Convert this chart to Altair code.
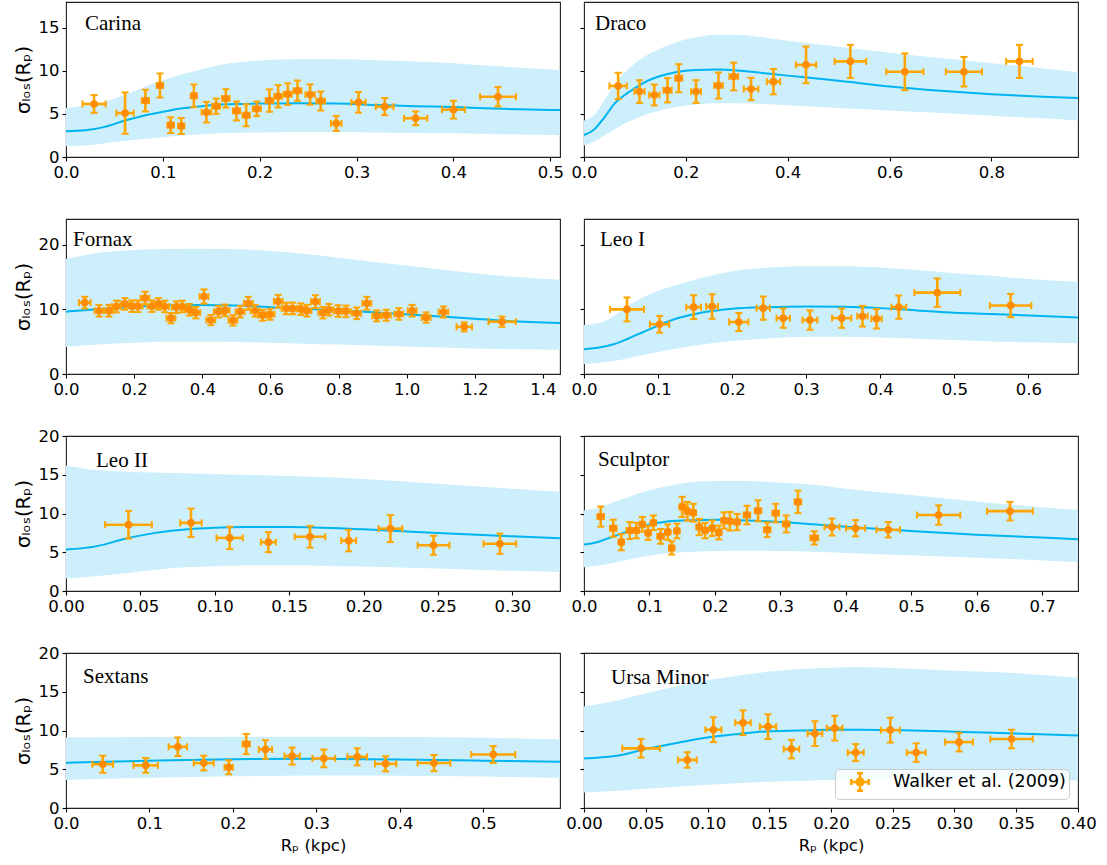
import altair as alt
import pandas as pd

# ---------------- data ----------------
legend_label = "Walker et al. (2009)"
y_title = "σₗₒₛ(Rₚ)"
x_title = "Rₚ (kpc)"

# Carina
carina_x = [0.029, 0.061, 0.082, 0.097, 0.108, 0.119, 0.132, 0.145, 0.155, 0.165, 0.176, 0.186, 0.197,
            0.210, 0.219, 0.229, 0.239, 0.252, 0.263, 0.279, 0.302, 0.329, 0.361, 0.400, 0.446]
carina_y = [6.16, 5.1, 6.55, 8.3, 3.7, 3.6, 7.1, 5.2, 5.9, 6.8, 5.35, 4.85, 5.6,
            6.55, 7.05, 7.3, 7.7, 7.25, 6.5, 3.9, 6.35, 5.85, 4.5, 5.5, 7.0]
carina_xerr = [0.012, 0.009, 0.0037, 0.0033, 0.0033, 0.0031, 0.0031, 0.005, 0.004, 0.0039, 0.0037, 0.0037, 0.0042,
               0.0039, 0.0039, 0.004, 0.004, 0.0048, 0.0044, 0.0055, 0.0074, 0.0092, 0.012, 0.0118, 0.0185]
carina_yerr = [1.03, 2.4, 1.26, 1.4, 0.91, 0.93, 1.32, 1.2, 0.89, 1.07, 1.1, 1.28, 0.85,
               1.3, 1.3, 1.26, 1.18, 1.18, 1.1, 0.87, 1.2, 1.0, 0.8, 1.03, 1.12]
carina_cx = [0, 0.02, 0.04, 0.06, 0.08, 0.1, 0.12, 0.14, 0.16, 0.2, 0.24, 0.28, 0.32, 0.36, 0.4, 0.45, 0.51]
carina_med = [3.0, 3.1, 3.5, 4.2, 4.8, 5.25, 5.65, 5.9, 6.1, 6.2, 6.25, 6.2, 6.05, 5.9, 5.8, 5.6, 5.45]
carina_hi = [5.7, 6.0, 6.45, 7.2, 8.1, 8.9, 9.6, 10.2, 10.7, 11.2, 11.35, 11.35, 11.25, 11.1, 10.9, 10.5, 10.1]
carina_lo = [1.25, 1.35, 1.6, 1.85, 2.1, 2.3, 2.5, 2.65, 2.75, 2.85, 2.9, 2.9, 2.85, 2.8, 2.75, 2.65, 2.55]

# Draco
draco_x = [0.067, 0.109, 0.138, 0.164, 0.186, 0.220, 0.264, 0.294, 0.328, 0.372, 0.436, 0.523, 0.630, 0.746, 0.855]
draco_y = [8.25, 7.6, 7.2, 7.75, 9.15, 7.6, 8.3, 9.35, 7.9, 8.75, 10.7, 11.1, 9.9, 9.9, 11.1]
draco_xerr = [0.017, 0.01, 0.01, 0.008, 0.0068, 0.0096, 0.0085, 0.0085, 0.0143, 0.013, 0.02, 0.031, 0.0365, 0.0355, 0.026]
draco_yerr = [1.53, 1.32, 1.22, 1.41, 1.63, 1.32, 1.51, 1.61, 1.3, 1.47, 2.13, 1.92, 2.13, 1.72, 1.92]
draco_cx = [0, 0.02, 0.04, 0.06, 0.08, 0.1, 0.12, 0.15, 0.18, 0.22, 0.26, 0.3, 0.35, 0.4, 0.5, 0.6, 0.7, 0.8, 0.9, 0.97]
draco_med = [2.55, 3.2, 4.6, 6.2, 7.2, 8.0, 8.7, 9.4, 9.85, 10.1, 10.15, 10.05, 9.75, 9.45, 8.85, 8.2, 7.7, 7.3, 7.0, 6.85]
draco_hi = [4.25, 4.9, 6.6, 8.4, 9.8, 10.9, 11.7, 12.6, 13.3, 13.9, 14.2, 14.2, 13.9, 13.5, 12.8, 12.1, 11.5, 10.9, 10.3, 9.85]
draco_lo = [1.35, 1.8, 2.5, 3.2, 3.9, 4.4, 4.9, 5.4, 5.8, 6.1, 6.25, 6.25, 6.15, 6.0, 5.7, 5.4, 5.1, 4.8, 4.5, 4.25]

# Fornax
fornax_x = [0.055, 0.097, 0.126, 0.148, 0.173, 0.194, 0.211, 0.232, 0.252, 0.271, 0.290, 0.308, 0.324, 0.341,
            0.362, 0.381, 0.405, 0.425, 0.447, 0.467, 0.490, 0.511, 0.535, 0.555, 0.577, 0.599, 0.623, 0.646,
            0.665, 0.689, 0.707, 0.732, 0.754, 0.772, 0.799, 0.822, 0.853, 0.883, 0.912, 0.940, 0.977, 1.016,
            1.057, 1.108, 1.169, 1.280]
fornax_y = [11.05, 9.8, 9.8, 10.45, 10.85, 10.5, 10.5, 11.75, 10.5, 10.85, 10.45, 8.65, 10.35, 10.45,
            9.95, 9.5, 12.0, 8.35, 9.65, 9.85, 8.3, 9.65, 10.95, 9.8, 9.1, 9.25, 11.25, 10.15,
            10.15, 10.05, 9.8, 11.2, 9.5, 9.95, 9.75, 9.7, 9.4, 10.95, 9.0, 9.1, 9.3, 9.8,
            8.75, 9.6, 7.3, 8.1]
fornax_xerr = [0.017, 0.013, 0.013, 0.013, 0.013, 0.013, 0.013, 0.013, 0.013, 0.013, 0.013, 0.013, 0.013, 0.013,
               0.013, 0.013, 0.013, 0.013, 0.013, 0.013, 0.013, 0.013, 0.013, 0.013, 0.013, 0.013, 0.013, 0.013,
               0.013, 0.013, 0.013, 0.013, 0.013, 0.013, 0.013, 0.013, 0.013, 0.013, 0.013, 0.013, 0.013, 0.013,
               0.013, 0.014, 0.0226, 0.04]
fornax_yerr = [0.9, 0.9, 0.9, 0.9, 0.9, 0.9, 0.9, 1.0, 0.9, 0.9, 0.9, 0.8, 0.9, 0.9,
               0.9, 0.9, 1.1, 0.8, 0.9, 0.9, 0.8, 0.9, 1.0, 0.9, 0.85, 0.85, 1.0, 0.9,
               0.9, 0.9, 0.9, 1.0, 0.9, 0.9, 0.9, 0.9, 0.9, 1.0, 0.85, 0.85, 0.9, 0.9,
               0.8, 0.85, 0.7, 0.8]
fornax_cx = [0, 0.1, 0.2, 0.3, 0.4, 0.5, 0.6, 0.7, 0.8, 0.9, 1.0, 1.1, 1.2, 1.3, 1.45]
fornax_med = [9.65, 10.05, 10.4, 10.65, 10.7, 10.6, 10.35, 10.1, 9.85, 9.55, 9.25, 8.9, 8.55, 8.2, 7.9]
fornax_hi = [17.8, 18.8, 19.2, 19.35, 19.4, 19.3, 19.05, 18.6, 18.0, 17.4, 16.8, 16.2, 15.6, 15.1, 14.6]
fornax_lo = [4.2, 4.6, 4.85, 5.0, 5.0, 4.95, 4.85, 4.7, 4.55, 4.4, 4.25, 4.1, 3.95, 3.85, 3.75]

# Leo I
leo1_x = [0.058, 0.102, 0.148, 0.173, 0.209, 0.242, 0.269, 0.305, 0.348, 0.376, 0.395, 0.425, 0.477, 0.576]
leo1_y = [10.0, 7.7, 10.35, 10.45, 8.05, 10.2, 8.65, 8.35, 8.65, 8.95, 8.55, 10.35, 12.6, 10.6]
leo1_xerr = [0.023, 0.013, 0.01, 0.008, 0.013, 0.009, 0.009, 0.01, 0.013, 0.007, 0.007, 0.01, 0.031, 0.028]
leo1_yerr = [1.85, 1.3, 1.85, 1.9, 1.4, 1.8, 1.5, 1.5, 1.5, 1.6, 1.5, 1.8, 2.2, 1.8]
leo1_cx = [0, 0.02, 0.04, 0.06, 0.08, 0.1, 0.125, 0.15, 0.2, 0.25, 0.3, 0.35, 0.4, 0.45, 0.5, 0.55, 0.6, 0.667]
leo1_med = [3.85, 4.1, 4.6, 5.5, 6.5, 7.5, 8.6, 9.3, 10.1, 10.35, 10.45, 10.4, 10.2, 9.85, 9.5, 9.3, 9.05, 8.75]
leo1_hi = [7.6, 7.9, 9.0, 10.6, 11.9, 12.9, 13.8, 14.6, 15.9, 16.5, 16.7, 16.7, 16.5, 16.1, 15.6, 15.2, 14.7, 14.3]
leo1_lo = [1.55, 1.7, 2.0, 2.45, 2.95, 3.4, 3.95, 4.4, 5.1, 5.5, 5.75, 5.75, 5.65, 5.45, 5.25, 5.05, 4.9, 4.75]

# Leo II
leo2_x = [0.042, 0.084, 0.110, 0.136, 0.164, 0.190, 0.218, 0.247, 0.2916]
leo2_y = [8.55, 8.8, 6.85, 6.3, 7.0, 6.5, 8.05, 5.9, 6.1]
leo2_xerr = [0.0157, 0.0072, 0.0088, 0.005, 0.0103, 0.005, 0.008, 0.0107, 0.011]
leo2_yerr = [1.78, 1.83, 1.44, 1.29, 1.4, 1.38, 1.74, 1.23, 1.31]
leo2_cx = [0, 0.02, 0.04, 0.06, 0.08, 0.1, 0.12, 0.15, 0.2, 0.25, 0.3, 0.332]
leo2_med = [5.35, 5.76, 6.75, 7.5, 7.95, 8.17, 8.25, 8.26, 7.96, 7.48, 7.05, 6.8]
leo2_hi = [16.2, 15.6, 15.4, 15.3, 15.2, 15.1, 15.0, 14.85, 14.45, 13.85, 13.2, 12.8]
leo2_lo = [1.6, 1.9, 2.3, 2.75, 3.05, 3.2, 3.3, 3.3, 3.15, 2.9, 2.6, 2.45]

# Sculptor
sculptor_x = [0.0255, 0.0447, 0.057, 0.070, 0.080, 0.089, 0.098, 0.106, 0.117, 0.128, 0.134, 0.142, 0.150,
              0.158, 0.167, 0.176, 0.185, 0.196, 0.206, 0.214, 0.223, 0.234, 0.249, 0.266, 0.280, 0.293,
              0.309, 0.327, 0.352, 0.379, 0.415, 0.465, 0.542, 0.651]
sculptor_y = [9.6, 8.1, 6.3, 7.8, 7.8, 8.6, 7.5, 8.8, 7.05, 7.6, 5.55, 7.75, 10.85,
              10.3, 10.1, 8.25, 7.8, 8.1, 7.55, 9.1, 9.0, 8.9, 9.8, 10.35, 7.9, 10.05,
              8.65, 11.5, 6.85, 8.25, 8.1, 7.9, 9.8, 10.3]
sculptor_xerr = [0.005, 0.005, 0.004, 0.005, 0.004, 0.004, 0.004, 0.004, 0.005, 0.004, 0.004, 0.004, 0.004,
                 0.004, 0.004, 0.004, 0.004, 0.004, 0.004, 0.004, 0.004, 0.004, 0.005, 0.005, 0.005, 0.005,
                 0.005, 0.005, 0.006, 0.0115, 0.0146, 0.018, 0.033, 0.035]
sculptor_yerr = [1.3, 1.1, 1.05, 1.1, 1.0, 0.95, 0.9, 0.95, 0.95, 1.0, 0.85, 0.95, 1.3,
                 1.2, 1.15, 1.05, 1.0, 1.0, 0.9, 1.05, 1.2, 1.05, 1.2, 1.35, 0.95, 1.2,
                 1.1, 1.45, 0.85, 1.1, 1.05, 1.0, 1.25, 1.2]
sculptor_cx = [0, 0.02, 0.04, 0.06, 0.08, 0.1, 0.125, 0.15, 0.2, 0.25, 0.3, 0.35, 0.4, 0.5, 0.6, 0.7, 0.755]
sculptor_med = [6.0, 6.3, 6.9, 7.5, 8.05, 8.6, 8.95, 9.1, 9.2, 9.1, 8.9, 8.6, 8.3, 7.75, 7.25, 6.9, 6.67]
sculptor_hi = [10.4, 10.7, 11.3, 11.9, 12.5, 13.0, 13.5, 13.9, 14.2, 14.2, 14.0, 13.7, 13.2, 12.4, 11.55, 10.8, 10.45]
sculptor_lo = [3.05, 3.25, 3.55, 3.9, 4.25, 4.55, 4.85, 5.0, 5.15, 5.2, 5.15, 5.05, 4.9, 4.6, 4.3, 3.95, 3.75]

# Sextans
sextans_x = [0.044, 0.0955, 0.134, 0.165, 0.195, 0.216, 0.239, 0.271, 0.309, 0.349, 0.383, 0.441, 0.512]
sextans_y = [5.65, 5.5, 7.9, 5.8, 5.25, 8.25, 7.55, 6.7, 6.4, 6.6, 5.7, 5.8, 6.9]
sextans_xerr = [0.0124, 0.0146, 0.011, 0.012, 0.005, 0.0043, 0.008, 0.0092, 0.0137, 0.0118, 0.0128, 0.0197, 0.0264]
sextans_yerr = [1.1, 0.95, 1.2, 0.95, 0.9, 1.3, 1.2, 1.1, 1.15, 1.1, 0.97, 1.04, 1.08]
sextans_cx = [0, 0.1, 0.2, 0.3, 0.4, 0.5, 0.592]
sextans_med = [5.85, 6.1, 6.3, 6.35, 6.25, 6.1, 5.97]
sextans_hi = [9.1, 9.15, 9.2, 9.2, 9.15, 9.05, 8.87]
sextans_lo = [3.6, 3.9, 4.1, 4.2, 4.15, 4.05, 3.9]

# Ursa Minor
umi_x = [0.0462, 0.0837, 0.1048, 0.1287, 0.149, 0.168, 0.187, 0.203, 0.220, 0.248, 0.269, 0.3037, 0.3462]
umi_y = [7.7, 6.2, 10.1, 11.0, 10.5, 7.6, 9.6, 10.3, 7.15, 10.05, 7.15, 8.5, 8.9]
umi_xerr = [0.0152, 0.0076, 0.0065, 0.0063, 0.0066, 0.0063, 0.006, 0.0063, 0.0065, 0.0077, 0.0077, 0.0113, 0.0172]
umi_yerr = [1.2, 1.0, 1.6, 1.6, 1.6, 1.2, 1.6, 1.6, 1.1, 1.6, 1.2, 1.2, 1.2]
umi_cx = [0, 0.025, 0.05, 0.075, 0.1, 0.125, 0.15, 0.175, 0.2, 0.225, 0.25, 0.3, 0.35, 0.4]
umi_med = [6.4, 6.7, 7.6, 8.4, 9.1, 9.55, 9.9, 10.0, 10.1, 10.1, 10.05, 9.85, 9.6, 9.35]
umi_hi = [13.1, 13.8, 14.8, 15.7, 16.5, 17.1, 17.6, 17.95, 18.1, 18.15, 18.05, 17.7, 17.4, 16.8]
umi_lo = [2.0, 2.2, 2.5, 2.75, 3.0, 3.2, 3.4, 3.5, 3.6, 3.65, 3.7, 3.7, 3.65, 3.55]

# ---------------- styling ----------------
BAND = "#cdeffb"
LINE = "#00b4f0"
ERR = "#ffa500"
PT = "#ff8c00"
SANS = "DejaVu Sans"
SERIF = "Liberation Serif"
FS = 16.5
W, H = 494, 155

legend_path = ("M-1,0H1M0,-1V1M-0.35,-1H0.35M-0.35,1H0.35M-1,-0.35V0.35M1,-0.35V0.35"
               "M-0.4,0A0.4,0.4 0 1,1 0.4,0A0.4,0.4 0 1,1 -0.4,0Z")


def panel(name, px, py, pxe, pye, cx, med, lo, hi, xmax, xticks, xfmt, ymax, yticks,
          left, bottom, name_dx, name_dy, legend=False):
    band_df = pd.DataFrame({"x": cx, "lo": lo, "hi": hi, "med": med})
    pts_df = pd.DataFrame({
        "x": px, "y": py,
        "xlo": [a - b for a, b in zip(px, pxe)], "xhi": [a + b for a, b in zip(px, pxe)],
        "ylo": [a - b for a, b in zip(py, pye)], "yhi": [a + b for a, b in zip(py, pye)],
        "series": [legend_label] * len(px),
    })
    capy_df = pd.DataFrame({"x": list(px) * 2,
                            "y": [a - b for a, b in zip(py, pye)] + [a + b for a, b in zip(py, pye)]})
    capx_df = pd.DataFrame({"x": [a - b for a, b in zip(px, pxe)] + [a + b for a, b in zip(px, pxe)],
                            "y": list(py) * 2})
    name_df = pd.DataFrame({"name": [name]})

    xscale = alt.Scale(domain=[0, xmax], nice=False, zero=False)
    yscale = alt.Scale(domain=[0, ymax], nice=False, zero=False)
    xaxis = alt.Axis(values=xticks, format=xfmt, title=x_title if bottom else None)
    if left:
        yaxis = alt.Axis(values=yticks, format="d", title=y_title, titleFontSize=19.5, titlePadding=5)
    else:
        yaxis = alt.Axis(values=yticks, format="d", labels=False, title=None)

    def X(f):
        return alt.X(f"{f}:Q", scale=xscale, axis=xaxis)

    def Y(f):
        return alt.Y(f"{f}:Q", scale=yscale, axis=yaxis)

    band = alt.Chart(band_df).mark_area(color=BAND, opacity=1, interpolate="monotone").encode(
        x=X("x"), y=Y("lo"), y2="hi")
    line = alt.Chart(band_df).mark_line(color=LINE, strokeWidth=2, interpolate="monotone").encode(
        x=X("x"), y=Y("med"))
    ebar_y = alt.Chart(pts_df).mark_rule(color=ERR, strokeWidth=2.6).encode(
        x=X("x"), y=Y("ylo"), y2="yhi")
    ebar_x = alt.Chart(pts_df).mark_rule(color=ERR, strokeWidth=2.6).encode(
        x=X("xlo"), x2="xhi", y=Y("y"))
    cap_y = alt.Chart(capy_df).mark_tick(orient="horizontal", color=ERR, size=7, thickness=2, opacity=1).encode(
        x=X("x"), y=Y("y"))
    cap_x = alt.Chart(capx_df).mark_tick(orient="vertical", color=ERR, size=7, thickness=2, opacity=1).encode(
        x=X("x"), y=Y("y"))
    if legend:
        color = alt.Color("series:N", scale=alt.Scale(range=[PT]), legend=alt.Legend(
            title=None, orient="bottom-right", offset=9, fillColor="rgba(255,255,255,0.8)",
            strokeColor="#cccccc", cornerRadius=4, padding=3, symbolOffset=12,
            symbolType=legend_path, symbolSize=300, symbolStrokeColor=ERR, symbolFillColor=PT,
            symbolStrokeWidth=2.5, symbolOpacity=1, labelFont=SANS, labelFontSize=17.5, labelColor="black",
            labelOffset=23, labelLimit=400))
    else:
        color = alt.value(PT)
    pts = alt.Chart(pts_df).mark_circle(size=58, opacity=1).encode(x=X("x"), y=Y("y"), color=color)
    label = alt.Chart(name_df).mark_text(align="left", baseline="alphabetic", font=SERIF, fontSize=21,
                                         color="black").encode(
        text="name:N", x=alt.value(name_dx), y=alt.value(name_dy))
    return alt.layer(band, line, ebar_y, ebar_x, cap_y, cap_x, pts, label).properties(width=W, height=H)


r1 = [0, 5, 10, 15]
r2 = [0, 10, 20]
r3 = [0, 5, 10, 15, 20]

carina = panel("Carina", carina_x, carina_y, carina_xerr, carina_yerr, carina_cx, carina_med, carina_lo, carina_hi,
               0.51, [0, 0.1, 0.2, 0.3, 0.4, 0.5], ".1f", 18, r1, True, False, 19, 28)
draco = panel("Draco", draco_x, draco_y, draco_xerr, draco_yerr, draco_cx, draco_med, draco_lo, draco_hi,
              0.97, [0, 0.2, 0.4, 0.6, 0.8], ".1f", 18, r1, False, False, 11, 28)
fornax = panel("Fornax", fornax_x, fornax_y, fornax_xerr, fornax_yerr, fornax_cx, fornax_med, fornax_lo, fornax_hi,
               1.45, [0, 0.2, 0.4, 0.6, 0.8, 1.0, 1.2, 1.4], ".1f", 24, r2, True, False, 7, 27)
leo1 = panel("Leo I", leo1_x, leo1_y, leo1_xerr, leo1_yerr, leo1_cx, leo1_med, leo1_lo, leo1_hi,
             0.667, [0, 0.1, 0.2, 0.3, 0.4, 0.5, 0.6], ".1f", 24, r2, False, False, 16, 27)
leo2 = panel("Leo II", leo2_x, leo2_y, leo2_xerr, leo2_yerr, leo2_cx, leo2_med, leo2_lo, leo2_hi,
             0.332, [0, 0.05, 0.1, 0.15, 0.2, 0.25, 0.3], ".2f", 20, r3, True, False, 30, 31)
sculptor = panel("Sculptor", sculptor_x, sculptor_y, sculptor_xerr, sculptor_yerr, sculptor_cx, sculptor_med,
                 sculptor_lo, sculptor_hi, 0.755, [0, 0.1, 0.2, 0.3, 0.4, 0.5, 0.6, 0.7], ".1f", 20, r3,
                 False, False, 14, 30)
sextans = panel("Sextans", sextans_x, sextans_y, sextans_xerr, sextans_yerr, sextans_cx, sextans_med, sextans_lo,
                sextans_hi, 0.592, [0, 0.1, 0.2, 0.3, 0.4, 0.5], ".1f", 20, r3, True, True, 17, 30)
umi = panel("Ursa Minor", umi_x, umi_y, umi_xerr, umi_yerr, umi_cx, umi_med, umi_lo, umi_hi,
            0.40, [0, 0.05, 0.1, 0.15, 0.2, 0.25, 0.3, 0.35, 0.4], ".2f", 20, r3, False, True, 27, 31,
            legend=True)

chart = alt.concat(carina, draco, fornax, leo1, leo2, sculptor, sextans, umi, columns=2,
                   spacing={"row": 62, "column": 24}, bounds="flush").resolve_scale(
    color="independent").resolve_legend(color="independent").properties(
    padding={"left": 12, "top": 1, "right": 5, "bottom": 5}, background="white"
).configure_view(stroke="#222222", strokeWidth=1.1).configure_axis(
    grid=False, domain=False, tickSize=4, tickColor="black", tickWidth=1.1,
    labelFont=SANS, labelFontSize=FS, labelColor="black", labelPadding=3,
    labelFlush=False, labelOverlap=False, labelBound=False,
    titleFont=SANS, titleFontSize=FS, titleFontWeight="normal", titleColor="black", titlePadding=6
)

chart.save("out.html", embed_options={"renderer": "svg", "actions": False})
